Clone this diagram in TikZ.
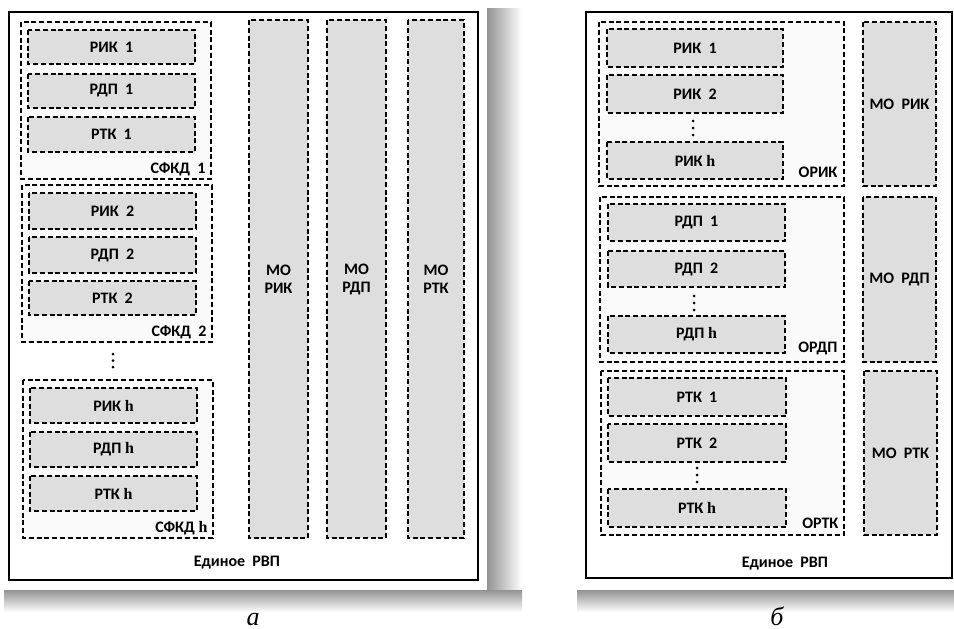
\documentclass[tikz,border=0pt]{standalone}
\usepackage{fontspec}
\setmainfont{Carlito}
\newfontfamily\hfont{Liberation Serif}
\usetikzlibrary{positioning}
\newcommand\hsym{{\hfont\bfseries h}}

\begin{document}
\begin{tikzpicture}[x=1pt, y=-1pt,
  every node/.style={font=\bfseries\fontsize{16}{18}\selectfont, align=center},
  unit/.style={draw, line width=1.8pt, dash pattern=on 5pt off 2.8pt, fill=gray!26},
  group/.style={draw, line width=1.8pt, dash pattern=on 5pt off 2.8pt, fill=gray!4},
  frame/.style={draw, line width=1.8pt, fill=white},
  dots/.style={fill, radius=1.5pt},
  caption/.style={font=\hfont\itshape\fontsize{26}{28}\selectfont, anchor=base}]
\useasboundingbox (0,0) rectangle (954,629);

% Page shadows
\shade[left color=gray!85, right color=white] (487,8) rectangle (522,590);
\shade[top color=gray!85, bottom color=white] (4,590) rectangle (522,612);
\shade[top color=gray!85, bottom color=white] (577,590) rectangle (954,612);

% ---- panel a ----
\draw[frame] (9,12) rectangle (478,580);

% first group
\draw[group] (21,22) rectangle (211,179);
\draw[unit] (28,30) rectangle (195,64) node[midway] (arik1) {РИК~~1};
\draw[unit] (28,74) rectangle (195,108) node[midway] (ardp1) {РДП~~1};
\draw[unit] (28,117) rectangle (195,152) node[midway] (artk1) {РТК~~1};
\node[anchor=east] (sfkd1) at (209,169) {СФКД~~1};

% second group
\draw[group] (22,185) rectangle (212,342);
\draw[unit] (29,193) rectangle (196,229) node[midway] (arik2) {РИК~~2};
\draw[unit] (29,237) rectangle (196,273) node[midway] (ardp2) {РДП~~2};
\draw[unit] (29,281) rectangle (196,315) node[midway] (artk2) {РТК~~2};
\node[anchor=east] (sfkd2) at (210,332) {СФКД~~2};

\foreach \y in {354,360.5,367} \fill[dots] (113,\y) circle;

% last group
\draw[group] (23,380) rectangle (213,538);
\draw[unit] (30,388) rectangle (197,423) node[midway] (arikh) {РИК \hsym};
\draw[unit] (30,432) rectangle (197,467) node[midway] (ardph) {РДП \hsym};
\draw[unit] (30,476) rectangle (197,511) node[midway] (artkh) {РТК \hsym};
\node[anchor=east] (sfkdh) at (211,528) {СФКД \hsym};

% columns
\draw[unit] (249,20) rectangle (308,538) node[midway] (amorik) {МО\\РИК};
\draw[unit] (327,20) rectangle (386,538) node[midway] (amordp) {МО\\РДП};
\draw[unit] (408,20) rectangle (464,538) node[midway] (amortk) {МО\\РТК};

\node (arvp) at (237,563) {Единое~~РВП};
\node[caption] (capa) at (253,625) {а};

% ---- panel b ----
\draw[frame] (586,12) rectangle (952,578);

% ОРИК
\draw[group] (599,22) rectangle (844,186);
\draw[unit] (607,29) rectangle (783,67) node[midway] (brik1) {РИК~~1};
\draw[unit] (607,75) rectangle (783,113) node[midway] (brik2) {РИК~~2};
\foreach \y in {121,128,135} \fill[dots] (693,\y) circle;
\draw[unit] (607,142) rectangle (783,179) node[midway] (brikh) {РИК \hsym};
\node[anchor=east] (orik) at (841,172) {ОРИК};
\draw[unit] (863,22) rectangle (936,186) node[midway] (bmorik) {МО~~РИК};

% ОРДП
\draw[group] (600,197) rectangle (844,362);
\draw[unit] (608,204) rectangle (785,241) node[midway] (brdp1) {РДП~~1};
\draw[unit] (608,251) rectangle (785,287) node[midway] (brdp2) {РДП~~2};
\foreach \y in {296,303,310} \fill[dots] (694,\y) circle;
\draw[unit] (608,316) rectangle (785,353) node[midway] (brdph) {РДП \hsym};
\node[anchor=east] (ordp) at (841,348) {ОРДП};
\draw[unit] (863,197) rectangle (936,362) node[midway] (bmordp) {МО~~РДП};

% ОРТК
\draw[group] (601,371) rectangle (844,535);
\draw[unit] (608,378) rectangle (786,416) node[midway] (brtk1) {РТК~~1};
\draw[unit] (608,424) rectangle (786,462) node[midway] (brtk2) {РТК~~2};
\foreach \y in {468,475,482} \fill[dots] (697,\y) circle;
\draw[unit] (608,489) rectangle (786,527) node[midway] (brtkh) {РТК \hsym};
\node[anchor=east] (ortk) at (842,523) {ОРТК};
\draw[unit] (864,371) rectangle (937,535) node[midway] (bmortk) {МО~~РТК};

\node (brvp) at (785,564) {Единое~~РВП};
\node[caption] (capb) at (777,625) {б};
\end{tikzpicture}
\end{document}
